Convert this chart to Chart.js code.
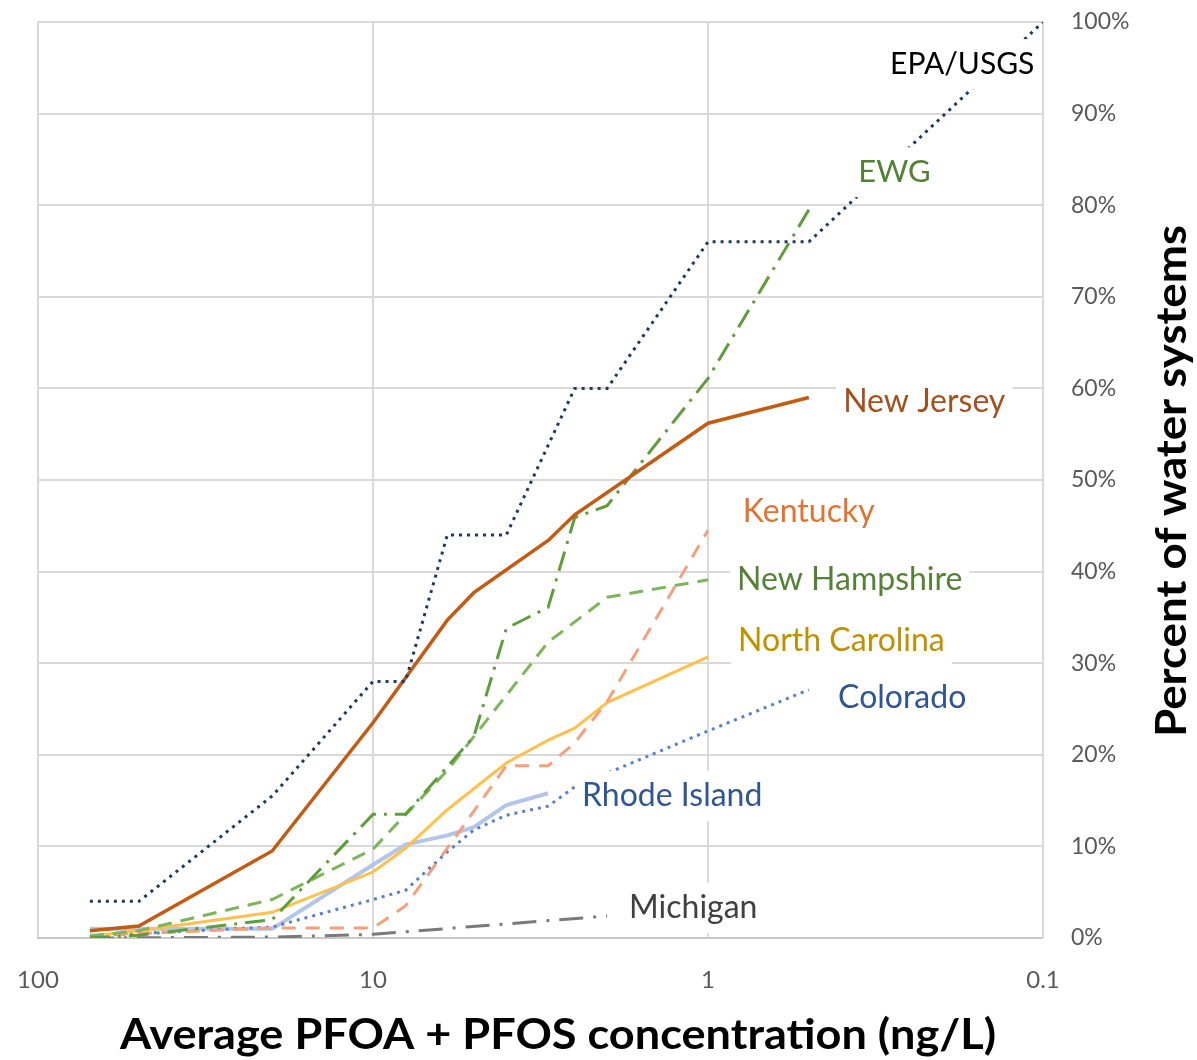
<!DOCTYPE html>
<html>
<head>
<meta charset="utf-8">
<script src="https://cdn.jsdelivr.net/npm/chart.js@4.4.1/dist/chart.umd.min.js"></script>
<style>
    html, body { margin: 0; padding: 0; background: #fff; }
    canvas { display: block; }
</style>
</head>
<body>
<canvas id="pfasChart" width="1197" height="1060"></canvas>
<script>
    // --- data (x = ng/L, y = % of systems) ---
    const xTicks = [100, 10, 1, 0.1];
    const xTickLabels = ['100', '10', '1', '0.1'];

    const epaX = [70, 50, 20, 10, 8, 6, 4, 2.5, 2, 1, 0.5, 0.1];
    const epaY = [4, 4, 15.5, 28, 28, 44, 44, 60, 60, 76, 76, 100];

    const ewgX = [70, 50, 20, 10, 8, 5, 4, 3, 2.5, 2, 1, 0.5];
    const ewgY = [0, 0.3, 2, 13.5, 13.5, 22, 33.8, 36.1, 45.9, 47.2, 61.1, 79.5];

    const njX = [70, 50, 20, 10, 6, 5, 3, 2.5, 1, 0.5];
    const njY = [0.8, 1.3, 9.5, 23.5, 34.7, 37.7, 43.4, 46.2, 56.2, 59];

    const kyX = [70, 50, 20, 10, 8, 6, 4, 3, 2.5, 2, 1];
    const kyY = [0.3, 0.5, 1.1, 1.1, 3.5, 9.8, 18.8, 18.8, 21.3, 25.8, 44.5];

    const nhX = [70, 50, 20, 10, 6, 3, 2, 1];
    const nhY = [0.2, 0.8, 4.2, 9.7, 18.3, 32.3, 37.2, 39.1];

    const ncX = [70, 50, 20, 10, 8, 6, 4, 3, 2.5, 2, 1];
    const ncY = [0.2, 0.8, 2.8, 7.2, 9.8, 14, 19.1, 21.6, 22.9, 25.7, 30.7];

    const coX = [70, 50, 20, 10, 8, 6, 5, 4, 3, 2.5, 1, 0.5];
    const coY = [0.2, 0.5, 1.2, 4.2, 5.2, 9.4, 11.8, 13.4, 14.4, 16.5, 22.6, 27.1];

    const riX = [70, 50, 20, 10, 8, 6, 5, 4, 3];
    const riY = [1, 1, 1, 8, 10.2, 11.2, 12.1, 14.5, 15.8];

    const miX = [70, 20, 10, 2];
    const miY = [0, 0.1, 0.4, 2.4];

    // series labels, anchored in data units (left edge / vertical middle)
    const labelNames = ['EPA/USGS', 'EWG', 'New Jersey', 'Kentucky', 'New Hampshire',
                        'North Carolina', 'Colorado', 'Rhode Island', 'Michigan'];
    const labelX = [0.286, 0.356, 0.395, 0.787, 0.819, 0.813, 0.409, 2.378, 1.72];
    const labelY = [95.4, 83.6, 58.5, 46.5, 39.1, 32.5, 26.2, 15.5, 3.3];
    const labelColors = ['#000000', '#548235', '#a4501c', '#e2722f', '#548235',
                         '#bf9000', '#2f5597', '#2f5597', '#404040'];
    const labelSizes = [30, 31, 32, 32, 32, 32, 32, 32, 32];

    function pts(xs, ys) {
        return xs.map((x, i) => ({ x: x, y: ys[i] }));
    }

    function series(name, xs, ys, color, width, dash) {
        return {
            label: name,
            data: pts(xs, ys),
            borderColor: color,
            backgroundColor: color,
            borderWidth: width,
            borderDash: dash || [],
            pointRadius: 0,
            tension: 0,
            fill: false
        };
    }

    const datasets = [
        series('EPA/USGS', epaX, epaY, '#1f3864', 3, [3, 5]),
        series('New Jersey', njX, njY, '#c55a11', 3.5),
        series('EWG', ewgX, ewgY, '#5e9e3a', 3, [20, 8, 3, 8]),
        series('New Hampshire', nhX, nhY, '#7db55a', 3, [14, 9]),
        series('Kentucky', kyX, kyY, '#f4a07a', 3, [14, 10]),
        series('North Carolina', ncX, ncY, '#ffc04c', 3),
        series('Colorado', coX, coY, '#5a7fcf', 3, [3, 5]),
        series('Rhode Island', riX, riY, '#b4c5ea', 4),
        series('Michigan', miX, miY, '#7a7a7a', 3, [24, 10, 3, 10])
    ];

    const whiteBg = {
        id: 'whiteBg',
        beforeDraw(chart) {
            const c = chart.ctx;
            c.save();
            c.fillStyle = '#fff';
            c.fillRect(0, 0, chart.width, chart.height);
            c.restore();
        }
    };

    // text boxes on top of the lines, white filled like the original
    const seriesLabels = {
        id: 'seriesLabels',
        afterDatasetsDraw(chart) {
            const c = chart.ctx;
            const xs = chart.scales.x, ys = chart.scales.y;
            c.save();
            c.textBaseline = 'middle';
            labelNames.forEach((name, i) => {
                c.font = labelSizes[i] + 'px Lato';
                const px = xs.getPixelForValue(labelX[i]);
                const py = ys.getPixelForValue(labelY[i]);
                const w = c.measureText(name).width;
                c.fillStyle = '#fff';
                c.fillRect(px - 7, py - 25, w + 14, 50);
                c.fillStyle = labelColors[i];
                c.fillText(name, px, py);
            });
            c.restore();
        }
    };

    // axis titles drawn by hand so the right one reads bottom-to-top
    function stretchedText(c, text, cx, cy, angle, length) {
        c.save();
        c.translate(cx, cy);
        c.rotate(angle);
        const sx = length / c.measureText(text).width;
        c.scale(sx, 1);
        c.fillText(text, 0, 0);
        c.restore();
    }

    const axisTitles = {
        id: 'axisTitles',
        afterDraw(chart) {
            const c = chart.ctx;
            c.save();
            c.fillStyle = '#000';
            c.font = 'bold 42px Lato';
            c.textAlign = 'center';
            c.textBaseline = 'middle';
            stretchedText(c, 'Average PFOA + PFOS concentration (ng/L)', 558, 1035, 0, 876);
            stretchedText(c, 'Percent of water systems', 1172, 481, -Math.PI / 2, 512);
            c.restore();
        }
    };

    const ctx = document.getElementById('pfasChart').getContext('2d');
    const pfasChart = new Chart(ctx, {
        type: 'line',
        data: { datasets: datasets },
        plugins: [whiteBg, seriesLabels, axisTitles],
        options: {
            responsive: false,
            animation: false,
            layout: { padding: { left: 38, top: 22, right: 0, bottom: 0 } },
            plugins: {
                legend: { display: false },
                tooltip: { enabled: false }
            },
            scales: {
                x: {
                    type: 'logarithmic',
                    reverse: true,
                    min: 0.1,
                    max: 100,
                    afterBuildTicks: function(scale) {
                        scale.ticks = xTicks.map(v => ({ value: v }));
                    },
                    afterFit: function(scale) {
                        scale.height = 122;
                    },
                    // invisible tick marks push the labels down instead of tick padding
                    grid: { color: '#d9d9d9', lineWidth: 2, drawTicks: true, tickLength: 28, tickColor: 'rgba(0,0,0,0)' },
                    border: { color: '#c8c8c8', width: 2 },
                    ticks: {
                        autoSkip: false,
                        maxRotation: 0,
                        padding: 0,
                        color: '#595959',
                        font: { family: 'Lato', size: 24 },
                        callback: function(value, index) {
                            return xTickLabels[index];
                        }
                    }
                },
                y: {
                    position: 'right',
                    min: 0,
                    max: 100,
                    afterFit: function(scale) {
                        scale.width = 154;
                    },
                    grid: { color: '#d9d9d9', lineWidth: 2, drawTicks: true, tickLength: 28, tickColor: 'rgba(0,0,0,0)' },
                    border: { color: '#d9d9d9', width: 2 },
                    ticks: {
                        stepSize: 10,
                        padding: 0,
                        color: '#595959',
                        font: { family: 'Lato', size: 23 },
                        callback: function(value) {
                            return value + '%';
                        }
                    }
                }
            }
        }
    });
</script>
</body>
</html>
